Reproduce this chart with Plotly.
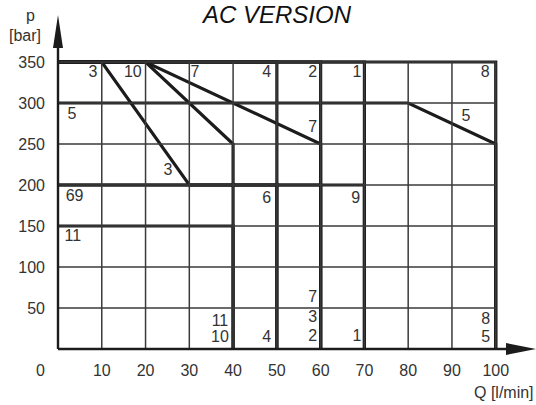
import plotly.graph_objects as go

# ---- data ----
Q_TICKS = [10, 20, 30, 40, 50, 60, 70, 80, 90, 100]
P_TICKS = [50, 100, 150, 200, 250, 300, 350]
Q_MAX = 100
P_MAX = 350

# characteristic curves (Q [l/min], p [bar]) per version
curve_names = ["1", "2", "3", "4", "5", "6", "7", "8", "9", "10", "11"]
curve_q = [
    [0, 70, 70],
    [0, 60, 60],
    [0, 10, 30, 60, 60],
    [0, 50, 50],
    [0, 80, 100, 100],
    [0, 50, 50],
    [0, 20, 60, 60],
    [0, 100, 100],
    [0, 70, 70],
    [0, 20, 40, 40],
    [0, 40, 40],
]
curve_p = [
    [350, 350, 0],
    [350, 350, 0],
    [350, 350, 200, 200, 0],
    [350, 350, 0],
    [300, 300, 250, 0],
    [200, 200, 0],
    [350, 350, 250, 0],
    [350, 350, 0],
    [200, 200, 0],
    [350, 350, 250, 0],
    [150, 150, 0],
]

# version labels placed in the chart
label_text = ["3", "10", "7", "4", "2", "1", "8",
              "5", "7", "5", "3",
              "69", "6", "9", "11",
              "11", "10", "4", "7", "3", "2", "1", "8", "5"]
label_q = [8.0, 17.1, 31.3, 47.7, 58.2, 68.3, 97.6,
           3.2, 58.2, 93.2, 25.1,
           3.8, 47.7, 68.0, 3.4,
           37.0, 37.0, 47.7, 58.2, 58.2, 58.2, 68.3, 97.7, 97.7]
label_p = [336, 336, 336, 336, 336, 336, 336,
           285, 269, 283, 217,
           185, 183, 183, 137,
           33, 13, 13, 62, 38, 15, 15, 35, 13]

# ---- figure ----
X_RANGE = [0, 109.2]
Y_RANGE = [0, 407.3]
GRID_COLOR = "#3a3a3a"
THICK_COLOR = "#1c1c1c"
FONT = "Liberation Sans, Arial, sans-serif"
TEXT_COLOR = "#333333"

fig = go.Figure()
shapes = []

# thin grid
for q in Q_TICKS:
    shapes.append(dict(type="line", xref="x", yref="y", x0=q, x1=q, y0=0, y1=P_MAX,
                       line=dict(color=GRID_COLOR, width=1.5)))
for p in P_TICKS:
    shapes.append(dict(type="line", xref="x", yref="y", x0=0, x1=Q_MAX, y0=p, y1=p,
                       line=dict(color=GRID_COLOR, width=1.5)))

# axes lines with arrows (paper coords so they are not clipped)
shapes.append(dict(type="line", xref="paper", yref="paper", x0=0, x1=0.97, y0=0, y1=0,
                   line=dict(color=THICK_COLOR, width=2.4)))
shapes.append(dict(type="line", xref="paper", yref="paper", x0=0, x1=0, y0=0, y1=0.95,
                   line=dict(color=THICK_COLOR, width=2.4)))
PLOT_W, PLOT_H = 478, 334
xa_len, xa_half = 30 / PLOT_W, 6 / PLOT_H
shapes.append(dict(type="path", xref="paper", yref="paper",
                   path=f"M 1 0 L {1-xa_len} {xa_half} L {1-xa_len} {-xa_half} Z",
                   fillcolor=THICK_COLOR, line=dict(width=0)))
ya_len, ya_half = 33 / PLOT_H, 5 / PLOT_W
shapes.append(dict(type="path", xref="paper", yref="paper",
                   path=f"M 0 1 L {ya_half} {1-ya_len} L {-ya_half} {1-ya_len} Z",
                   fillcolor=THICK_COLOR, line=dict(width=0)))

# thick characteristic curves
for name, qs, ps in zip(curve_names, curve_q, curve_p):
    fig.add_trace(go.Scatter(x=qs, y=ps, mode="lines", name=name,
                             line=dict(color=THICK_COLOR, width=3.2),
                             hoverinfo="name", showlegend=False, cliponaxis=False))

fig.add_trace(go.Scatter(x=label_q, y=label_p, mode="text", text=label_text,
                         textfont=dict(family=FONT, size=16, color=TEXT_COLOR),
                         textposition="middle center", showlegend=False, hoverinfo="skip"))

annotations = [
    dict(text="AC VERSION", xref="paper", yref="paper", x=0.458, y=1.0,
         xanchor="center", yanchor="middle", showarrow=False, yshift=1,
         font=dict(family=FONT, size=24, color="#111111", style="italic")),
    dict(text="p", xref="paper", yref="paper", x=-0.058, y=1.0,
         xanchor="center", yanchor="middle", showarrow=False, yshift=0,
         font=dict(family=FONT, size=16, color=TEXT_COLOR)),
    dict(text="[bar]", xref="paper", yref="paper", x=-0.069, y=1.0,
         xanchor="center", yanchor="middle", showarrow=False, yshift=-20,
         font=dict(family=FONT, size=16, color=TEXT_COLOR)),
    dict(text="Q [l/min]", xref="paper", yref="paper", x=1.0, y=0,
         xanchor="right", yanchor="middle", showarrow=False, yshift=-43,
         font=dict(family=FONT, size=16, color=TEXT_COLOR)),
    dict(text="0", xref="x", yref="y", x=0, y=0,
         xanchor="center", yanchor="middle", showarrow=False, xshift=-18, yshift=-21,
         font=dict(family=FONT, size=16, color=TEXT_COLOR)),
]

fig.update_layout(
    width=536, height=405,
    margin=dict(l=58, r=0, t=15, b=56),
    paper_bgcolor="white", plot_bgcolor="white",
    shapes=shapes, annotations=annotations,
    xaxis=dict(range=X_RANGE, tickvals=Q_TICKS, ticktext=[str(v) for v in Q_TICKS],
               showgrid=False, zeroline=False, showline=False, ticks="",
               ticklabelstandoff=10, automargin=False,
               tickfont=dict(family=FONT, size=16, color=TEXT_COLOR), fixedrange=True),
    yaxis=dict(range=Y_RANGE, tickvals=P_TICKS, ticktext=[str(v) for v in P_TICKS],
               showgrid=False, zeroline=False, showline=False, ticks="",
               ticklabelstandoff=12, automargin=False,
               tickfont=dict(family=FONT, size=16, color=TEXT_COLOR), fixedrange=True),
)

fig.write_html("out.html", config={"displayModeBar": False},
               post_script="document.body.style.margin='0';document.body.style.overflow='hidden';")
